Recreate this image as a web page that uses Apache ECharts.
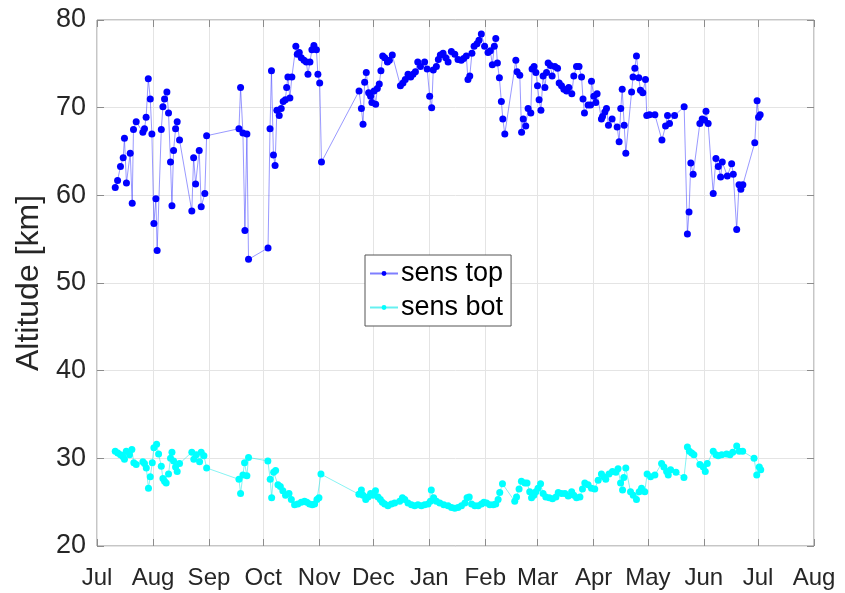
<!DOCTYPE html>
<html>
<head>
<meta charset="utf-8">
<script src="https://cdn.jsdelivr.net/npm/echarts@6/dist/echarts.min.js"></script>
<style>
  html, body { margin: 0; padding: 0; background: #fff; }
  #chart { width: 845px; height: 593px; }
</style>
</head>
<body>
<div id="chart"></div>
<script>
// days counted from 1 Jul
const topDays = [10.1, 11.4, 13, 14.5, 15.2, 16.3, 18.4, 19.5, 20.2, 21.7, 25.4, 26.3, 27.2, 28.4, 29.5, 30.4, 31.5, 32.6, 33.3, 35.6,
  36.5, 37.4, 38.7, 39.6, 40.7, 41.5, 42.4, 43.5, 44.4, 45.7, 52.5, 53.5, 54.6, 56.6, 57.7, 59.7, 60.7, 78.6, 79.5, 80.8,
  81.9, 83, 83.9, 94.7, 95.8, 96.6, 97.7, 98.6, 99.6, 100.9, 102, 103.1, 104.3, 105, 105.7, 106.8, 107.9, 110.1, 110.9, 112,
  113.1, 114.6, 115.9, 116.8, 117.9, 119, 120.1, 121.5, 122.3, 123.3, 124.3, 145.1, 146.4, 147.3, 148.2, 149.1, 150.4, 151.5, 152.2, 153.4,
  154.3, 155.2, 156.3, 157.2, 158.2, 159.3, 160.8, 161.9, 163.5, 168, 169.4, 170.7, 172.2, 173.7, 175, 176.3, 177.6, 179.1, 181.4, 182.8,
  184.2, 185.3, 186.2, 187.9, 189, 190.1, 191.6, 193.1, 194.4, 196.2, 198.1, 199.9, 201.7, 203, 204.5, 205.4, 206.4, 207.6, 208.8, 210.4,
  211.5, 212.8, 214.6, 216.5, 217.8, 218.9, 220, 220.8, 221.7, 222.8, 223.9, 224.7, 225.8, 231.9, 232.6, 234.1, 235.1, 236, 237.4, 238.7,
  240.2, 240.9, 242, 243, 243.9, 244.8, 245.8, 247, 248, 248.9, 249.8, 251.1, 252, 253.5, 255, 255.9, 257.2, 258.5, 260, 261.2,
  262.9, 264, 265.5, 266.9, 268.3, 269.1, 269.9, 271.9, 273.3, 273.8, 275.1, 276.2, 276.9, 279.3, 279.9, 281.2, 282.1, 283.2, 285.2, 288,
  289.1, 290, 290.8, 291.9, 292.8, 296, 296.8, 297.8, 298.7, 300, 300.9, 302.2, 303.7, 304.4, 305.9, 308.9, 312.8, 314.8, 315.9, 317,
  319.8, 325.1, 326.9, 327.8, 328.8, 330.1, 333.8, 335.1, 336.4, 337.2, 338.4, 341.2, 342.7, 344, 345.3, 346.2, 349, 351.4, 352.3, 354.2,
  355.5, 356.5, 357.6, 364.2, 365.5, 366.3, 367.2];
const topAlt = [60.9, 61.7, 63.3, 64.3, 66.5, 61.4, 64.8, 59.1, 67.5, 68.4, 67.2, 67.6, 68.9, 73.3, 71.0, 67.0, 56.8, 59.6, 53.7, 67.5,
  70.1, 71.0, 71.8, 69.4, 63.8, 58.8, 65.1, 67.6, 68.4, 66.3, 58.2, 64.3, 61.3, 65.1, 58.7, 60.2, 66.8, 67.6, 72.3, 67.1,
  56.0, 67.0, 52.7, 54.0, 67.6, 74.2, 64.6, 63.4, 69.7, 69.1, 69.9, 70.7, 70.9, 72.3, 73.5, 71.1, 73.5, 77.0, 76.1, 76.3,
  75.7, 75.4, 75.2, 73.8, 75.2, 76.6, 77.1, 76.6, 73.8, 72.8, 63.8, 71.9, 69.9, 68.1, 72.9, 74.0, 71.7, 71.3, 70.6, 71.9,
  70.4, 72.2, 72.7, 74.2, 75.9, 75.7, 75.2, 75.4, 76.0, 72.5, 72.8, 73.2, 73.8, 73.5, 73.8, 74.1, 75.2, 74.7, 75.2, 74.4,
  71.3, 70.0, 74.3, 74.7, 75.5, 76.0, 76.2, 75.7, 75.2, 76.4, 76.1, 75.5, 75.4, 75.6, 75.9, 73.2, 73.6, 76.2, 77.0, 77.3,
  77.7, 78.4, 77.0, 76.3, 76.5, 74.9, 77.0, 77.9, 75.1, 73.4, 70.7, 68.7, 67.0, 75.4, 74.1, 73.7, 67.2, 68.7, 67.9, 69.9,
  69.4, 74.4, 74.7, 74.0, 72.5, 70.9, 69.7, 73.6, 72.3, 74.0, 75.1, 74.8, 73.6, 74.7, 74.5, 72.8, 72.5, 72.1, 71.9, 72.3,
  71.6, 73.6, 74.7, 74.7, 73.5, 71.0, 69.4, 70.3, 70.3, 73.0, 71.3, 70.6, 71.6, 68.7, 69.0, 69.5, 69.9, 68.0, 68.7, 67.8,
  66.1, 69.9, 72.1, 68.0, 64.8, 71.8, 73.5, 74.5, 75.9, 73.4, 72.0, 71.7, 73.2, 69.1, 69.2, 69.2, 66.3, 67.9, 69.1, 68.2,
  69.1, 70.1, 55.6, 58.1, 63.7, 62.4, 68.2, 68.7, 68.6, 69.6, 68.2, 60.2, 64.2, 63.3, 62.1, 63.8, 62.2, 63.6, 62.4, 56.1,
  61.2, 60.7, 61.2, 66.0, 70.8, 68.9, 69.2];

const botDays = [10.1, 11.5, 13, 14.3, 15.2, 16.2, 18, 19.3, 20.4, 21.7, 25.4, 26.3, 27.3, 28.5, 29.5, 30.6, 31.5, 33, 34.1, 35.6,
  36.5, 37.4, 38.3, 39.6, 40.7, 41.5, 42.4, 43.5, 44.4, 45.7, 52.5, 53.6, 55, 56.8, 57.7, 59.2, 60.7, 78.6, 79.5, 80.8,
  81.7, 83, 83.9, 94.6, 95.9, 96.7, 97.8, 98.9, 100.2, 101.5, 102.9, 104.4, 106.3, 107.6, 109.4, 111.2, 113.1, 114.9, 116.2, 117.7,
  119.2, 120.5, 121.8, 122.9, 124, 145, 146.4, 147.3, 148.8, 150.1, 151.5, 152.8, 154.2, 155.6, 156.9, 158, 159.3, 161.1, 163, 164.8,
  167.6, 169.1, 170.4, 172.2, 174.1, 175.9, 177.7, 179.6, 181.4, 183.3, 184.6, 185.1, 186.4, 187.9, 189.8, 192, 194.4, 196.3, 198.1, 199.9,
  201.8, 203.7, 204.9, 206.1, 207.4, 209.2, 211.1, 212.9, 214.2, 215.7, 217.5, 219.4, 220.8, 222.1, 223, 224.5, 231.3, 232.3, 233.7, 235,
  236.9, 238.1, 239.6, 240.6, 241.9, 243, 244.2, 245.6, 247, 248.5, 250.4, 252.2, 254.1, 255.4, 257.2, 259.1, 260.9, 262.8, 264, 265.5,
  267.4, 268.8, 270.1, 271.9, 273.8, 275.6, 277.5, 279.3, 280.5, 281.7, 283.5, 285.4, 287.3, 288.5, 289.9, 291, 291.7, 292.8, 295.4, 296.9,
  298.7, 300.2, 301.5, 303.3, 304.6, 306.5, 308.9, 312.6, 313.9, 315.4, 316.3, 317.6, 320.6, 325, 326.9, 328, 329.3, 330.5, 333.8, 335.7,
  336.8, 337.9, 341.2, 342.7, 344, 345.9, 348.6, 350.5, 352, 354.2, 355.6, 357.5, 363.8, 365.3, 366.7, 367.5];
const botAlt = [30.8, 30.6, 30.4, 30.2, 29.9, 30.8, 30.4, 31.0, 29.5, 29.3, 29.6, 29.4, 28.9, 26.6, 27.9, 29.5, 31.2, 31.6, 30.5, 29.1,
  27.7, 27.4, 27.2, 28.2, 30.0, 30.7, 29.7, 29.0, 28.5, 29.4, 30.7, 29.9, 30.4, 29.6, 30.7, 30.3, 28.9, 27.6, 26.0, 28.1,
  29.5, 28.0, 30.1, 29.7, 27.6, 25.5, 28.4, 28.6, 27.0, 26.8, 26.3, 25.8, 26.0, 25.3, 24.7, 24.8, 25.0, 25.1, 25.0, 24.8,
  24.7, 24.8, 25.3, 25.5, 28.2, 25.9, 26.4, 25.8, 25.3, 25.6, 26.0, 25.8, 26.3, 25.6, 25.3, 25.0, 24.8, 24.6, 24.8, 24.9,
  25.1, 25.5, 25.3, 24.9, 24.7, 24.6, 24.7, 24.6, 24.7, 24.8, 25.1, 26.4, 25.5, 25.1, 24.9, 24.7, 24.6, 24.4, 24.3, 24.4,
  24.6, 24.9, 25.5, 25.6, 24.8, 24.6, 24.6, 24.8, 25.0, 24.9, 24.7, 24.7, 24.8, 25.3, 26.1, 27.1, 25.1, 25.6, 26.5, 27.4,
  27.2, 27.2, 26.2, 25.5, 25.8, 26.2, 26.6, 27.1, 26.0, 25.6, 25.5, 25.4, 25.6, 26.1, 26.0, 26.0, 25.7, 26.2, 25.8, 25.5,
  25.6, 26.5, 27.2, 27.0, 26.6, 26.5, 27.5, 28.2, 27.9, 27.6, 28.2, 28.5, 28.4, 28.8, 27.2, 26.4, 27.8, 28.9, 26.2, 25.8,
  25.3, 26.2, 26.6, 26.2, 28.2, 27.9, 28.1, 29.4, 29.0, 28.5, 28.1, 28.7, 28.4, 27.8, 31.3, 30.8, 30.6, 30.4, 29.3, 29.0,
  28.5, 29.4, 30.8, 30.4, 30.3, 30.4, 30.5, 30.4, 30.7, 31.4, 30.8, 30.8, 30.0, 28.1, 29.0, 28.7];

const monthLabels = ['Jan', 'Feb', 'Mar', 'Apr', 'May', 'Jun', 'Jul', 'Aug', 'Sep', 'Oct', 'Nov', 'Dec'];

const DAY = 86400000;
const start = Date.UTC(2019, 6, 1);
const end = Date.UTC(2020, 7, 1);
const toPairs = (days, vals) => days.map((d, i) => [start + d * DAY, vals[i]]);

const font = "'Liberation Sans', Arial, Helvetica, sans-serif";
const textColor = '#262626';
const frameColor = '#8c8c8c';
const gridColor = '#e4e4e4';

const myChart = echarts.init(document.getElementById('chart'));

const xCommon = {
  type: 'time',
  min: start,
  max: end,
  splitNumber: 13,
  minInterval: 28 * DAY,
  maxInterval: 31 * DAY,
};

const option = {
  animation: false,
  textStyle: { fontFamily: font },
  grid: {
    left: 97, right: 31, top: 20, bottom: 47,
    show: true, borderColor: frameColor, borderWidth: 1,
  },
  legend: {
    orient: 'vertical',
    left: 365,
    top: 255,
    padding: [5, 8, 5, 4],
    itemGap: 7,
    itemWidth: 28,
    itemHeight: 6,
    backgroundColor: '#fff',
    borderColor: '#555',
    borderWidth: 1,
    borderRadius: 0,
    textStyle: { fontSize: 27, color: '#000', fontFamily: font, padding: [0, 0, 0, -2] },
    data: ['sens top', 'sens bot'],
  },
  xAxis: [
    Object.assign({}, xCommon, {
      position: 'bottom',
      axisLine: { show: false },
      axisTick: { show: true, inside: true, length: 7, lineStyle: { color: frameColor } },
      splitLine: { show: true, lineStyle: { color: gridColor, width: 1 } },
      axisLabel: {
        show: true,
        margin: 20,
        fontSize: 24,
        color: textColor,
        fontFamily: font,
        hideOverlap: false,
        showMinLabel: true,
        showMaxLabel: true,
        formatter: (v) => monthLabels[new Date(v).getUTCMonth()],
      },
    }),
    Object.assign({}, xCommon, {
      position: 'top',
      axisLine: { show: false },
      axisTick: { show: true, inside: true, length: 7, lineStyle: { color: frameColor } },
      splitLine: { show: false },
      axisLabel: { show: false },
    }),
  ],
  yAxis: [
    {
      type: 'value',
      min: 20,
      max: 80,
      interval: 10,
      name: 'Altitude [km]',
      nameLocation: 'middle',
      nameGap: 50,
      nameTextStyle: { fontSize: 32, color: textColor, fontFamily: font },
      axisLine: { show: false },
      axisTick: { show: true, inside: true, length: 7, lineStyle: { color: frameColor } },
      splitLine: { show: true, lineStyle: { color: gridColor, width: 1 } },
      axisLabel: { fontSize: 27, color: textColor, margin: 11, fontFamily: font },
    },
    {
      type: 'value',
      min: 20,
      max: 80,
      interval: 10,
      position: 'right',
      axisLine: { show: false },
      axisTick: { show: true, inside: true, length: 7, lineStyle: { color: frameColor } },
      splitLine: { show: false },
      axisLabel: { show: false },
    },
  ],
  series: [
    {
      name: 'sens top',
      type: 'line',
      data: toPairs(topDays, topAlt),
      symbol: 'circle',
      symbolSize: 7,
      showSymbol: true,
      itemStyle: { color: '#0000ff' },
      lineStyle: { color: 'rgba(40,40,255,0.6)', width: 0.8 },
      z: 3,
    },
    {
      name: 'sens bot',
      type: 'line',
      data: toPairs(botDays, botAlt),
      symbol: 'circle',
      symbolSize: 7,
      showSymbol: true,
      itemStyle: { color: '#00ffff' },
      lineStyle: { color: 'rgba(0,230,230,0.6)', width: 0.8 },
      z: 2,
    },
  ],
};

myChart.setOption(option);
</script>
</body>
</html>
